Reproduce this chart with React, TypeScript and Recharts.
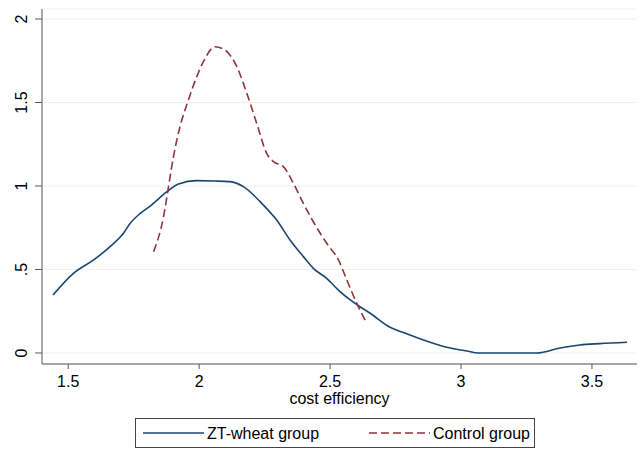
import React from "react";
import { LineChart, Line, XAxis, YAxis, CartesianGrid } from "recharts";

const ztX = [1.442, 1.52, 1.597, 1.66, 1.711, 1.737, 1.775, 1.813, 1.877, 1.921, 1.991, 2.06, 2.118, 2.169, 2.245, 2.296, 2.347, 2.398, 2.436, 2.487, 2.538, 2.614, 2.653, 2.729, 2.78, 2.856, 2.945, 3.022, 3.066, 3.15, 3.23, 3.29, 3.378, 3.454, 3.53, 3.634];
const ztY = [0.347, 0.477, 0.557, 0.637, 0.717, 0.777, 0.836, 0.88, 0.966, 1.012, 1.032, 1.03, 1.026, 0.996, 0.886, 0.796, 0.677, 0.577, 0.507, 0.447, 0.367, 0.277, 0.238, 0.154, 0.122, 0.078, 0.034, 0.012, 0.0, 0.0, 0.0, 0.0, 0.03, 0.048, 0.056, 0.064];

const ctX = [1.826, 1.864, 1.883, 1.902, 1.927, 1.959, 1.991, 2.016, 2.061, 2.099, 2.144, 2.182, 2.22, 2.258, 2.284, 2.322, 2.36, 2.398, 2.436, 2.487, 2.532, 2.564, 2.602, 2.64];
const ctY = [0.607, 0.816, 0.996, 1.176, 1.355, 1.515, 1.655, 1.744, 1.834, 1.814, 1.715, 1.555, 1.375, 1.195, 1.146, 1.116, 1.016, 0.896, 0.786, 0.657, 0.557, 0.437, 0.297, 0.178];

const xTicks = [1.5, 2, 2.5, 3, 3.5];
const yTicks = [0, 0.5, 1, 1.5, 2];
const yTickLabels = ["0", ".5", "1", "1.5", "2"];

const seriesNames = ["ZT-wheat group", "Control group"];

const ztData = ztX.map((x, i) => ({ x, y: ztY[i] }));
const ctData = ctX.map((x, i) => ({ x, y: ctY[i] }));

const FONT = "'Liberation Sans', Arial, Helvetica, sans-serif";
const BLUE = "#1a476f";
const RED = "#90353b";
const AXIS = "#555555";

const YTick = (props: any) => {
  const { y, payload } = props;
  const idx = yTicks.indexOf(payload.value);
  const label = idx >= 0 ? yTickLabels[idx] : String(payload.value);
  return (
    <text
      x={27}
      y={y}
      transform={`rotate(-90, 27, ${y})`}
      textAnchor="middle"
      fontFamily={FONT}
      fontSize={16}
      fill="#000"
    >
      {label}
    </text>
  );
};

export default function App() {
  return (
    <div style={{ position: "absolute", left: 0, top: 0, width: 643, height: 451, background: "#fff" }}>
      <LineChart width={643} height={451} margin={{ top: 9, right: 6, left: 0, bottom: 37 }}>
        <CartesianGrid horizontal={true} vertical={false} stroke="#eaf2f3" strokeWidth={1.2} />
        <XAxis
          type="number"
          dataKey="x"
          domain={[1.4, 3.672]}
          ticks={xTicks}
          tickFormatter={(v: number) => String(v)}
          height={50}
          tickSize={5}
          tickMargin={7}
          stroke={AXIS}
          tick={{ fill: "#000", fontSize: 16, fontFamily: FONT }}
          allowDataOverflow
          label={{ value: "cost efficiency", position: "insideBottom", offset: 10, fill: "#000", fontSize: 16, fontFamily: FONT }}
        />
        <YAxis
          type="number"
          domain={[-0.066, 2.06]}
          ticks={yTicks}
          width={42}
          tickSize={7}
          stroke={AXIS}
          tick={<YTick />}
          allowDataOverflow
        />
        <Line
          data={ztData}
          dataKey="y"
          type="monotone"
          stroke={BLUE}
          strokeWidth={1.6}
          dot={false}
          isAnimationActive={false}
          name={seriesNames[0]}
        />
        <Line
          data={ctData}
          dataKey="y"
          type="monotone"
          stroke={RED}
          strokeWidth={1.6}
          strokeDasharray="8 4"
          dot={false}
          isAnimationActive={false}
          name={seriesNames[1]}
        />
      </LineChart>
      <div
        style={{
          position: "absolute",
          left: 135,
          top: 418,
          width: 400,
          height: 30,
          border: "1px solid #444",
          boxSizing: "border-box",
          background: "#fff",
        }}
      >
        <svg width={400} height={30} style={{ position: "absolute", left: -1, top: -1 }}>
          <line x1={8} x2={69} y1={15} y2={15} stroke={BLUE} strokeWidth={1.6} />
          <text x={72} y={21} fontFamily={FONT} fontSize={16} fill="#000">{seriesNames[0]}</text>
          <line x1={234} x2={295} y1={15} y2={15} stroke={RED} strokeWidth={1.6} strokeDasharray="8 4" />
          <text x={298} y={21} fontFamily={FONT} fontSize={16} fill="#000">{seriesNames[1]}</text>
        </svg>
      </div>
    </div>
  );
}
